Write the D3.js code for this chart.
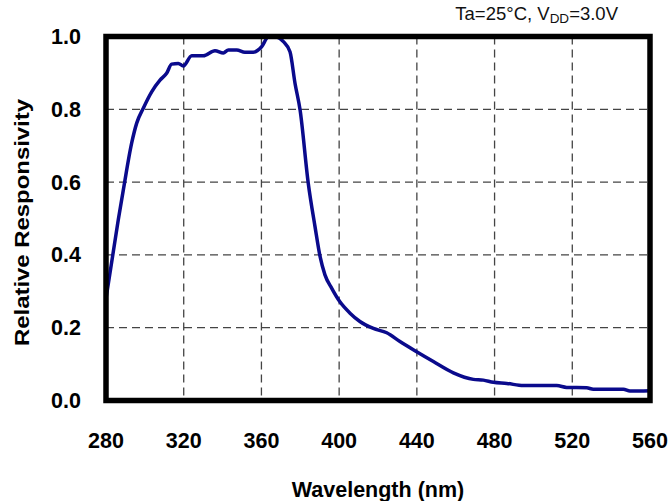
<!DOCTYPE html>
<html>
<head>
<meta charset="utf-8">
<script src="https://cdn.jsdelivr.net/npm/d3@7/dist/d3.min.js"></script>
<style>
  html, body { margin: 0; padding: 0; background: #fff; }
  svg { display: block; font-family: "Liberation Sans", Arial, sans-serif; }
</style>
</head>
<body>
<div id="viz"></div>
<script>
// wavelength (nm)
const wavelength = [280, 286.3, 288.9, 293.2, 295.8, 299.2, 303.5, 307.8, 311.2, 313.8,
  317.2, 319.8, 324.1, 330.1, 336.1, 340.4, 343, 347.3, 351.5, 355.8,
  360.1, 363.5, 367.8, 371.3, 374.7, 377.3, 379.9, 384.1, 387.6, 390.2,
  392.7, 396.2, 400.4, 405.6, 410.7, 417.6, 424.5, 431.3, 439.9, 448.5,
  458.8, 469.1, 474.2, 479.4, 486.3, 494.8, 512, 517.1, 527.4, 530.8,
  546.3, 549.7, 560];
// relative responsivity
const responsivity = [0.28, 0.496, 0.578, 0.707, 0.762, 0.803, 0.848, 0.880, 0.899, 0.924,
  0.926, 0.919, 0.947, 0.947, 0.961, 0.955, 0.963, 0.963, 0.957, 0.957,
  0.972, 0.998, 0.998, 0.986, 0.958, 0.871, 0.798, 0.597, 0.477, 0.395,
  0.345, 0.308, 0.271, 0.240, 0.217, 0.198, 0.186, 0.162, 0.134, 0.107,
  0.076, 0.058, 0.056, 0.050, 0.047, 0.041, 0.041, 0.036, 0.035, 0.031,
  0.031, 0.026, 0.027];
const xTicks = [280, 320, 360, 400, 440, 480, 520, 560];
const yTicks = [0.0, 0.2, 0.4, 0.6, 0.8, 1.0];

(function () {
  const W = 671, H = 501;
  const left = 106, right = 650, top = 36.5, bottom = 400.5;

  const svg = d3.select("#viz").append("svg")
    .attr("width", W).attr("height", H);

  const x = d3.scaleLinear().domain([280, 560]).range([left, right]);
  const y = d3.scaleLinear().domain([0, 1]).range([bottom, top]);

  // grid lines
  const grid = svg.append("g")
    .attr("stroke", "#444")
    .attr("stroke-width", 1.3)
    .attr("stroke-dasharray", "8 5");
  grid.selectAll("line.v")
    .data(xTicks.slice(1, -1))
    .enter().append("line")
      .attr("x1", d => x(d)).attr("x2", d => x(d))
      .attr("y1", top).attr("y2", bottom);
  grid.selectAll("line.h")
    .data(yTicks.slice(1, -1))
    .enter().append("line")
      .attr("x1", left).attr("x2", right)
      .attr("y1", d => y(d)).attr("y2", d => y(d));

  // curve
  const rows = wavelength.map((w, i) => ({ w: w, r: responsivity[i] }));
  svg.append("path")
    .datum(rows)
    .attr("fill", "none")
    .attr("stroke", "#0a0a8c")
    .attr("stroke-width", 3.5)
    .attr("stroke-linejoin", "round")
    .attr("d", d3.line()
      .x(d => x(d.w))
      .y(d => y(d.r))
      .curve(d3.curveMonotoneX));

  // frame
  svg.append("rect")
    .attr("x", left).attr("y", top)
    .attr("width", right - left).attr("height", bottom - top)
    .attr("fill", "none")
    .attr("stroke", "#000")
    .attr("stroke-width", 5.5);

  // tick labels
  svg.append("g").selectAll("text")
    .data(xTicks)
    .enter().append("text")
      .attr("x", d => x(d))
      .attr("y", 448)
      .attr("text-anchor", "middle")
      .attr("font-size", 21.5)
      .attr("font-weight", "bold")
      .text(d => d);
  svg.append("g").selectAll("text")
    .data(yTicks)
    .enter().append("text")
      .attr("x", 81)
      .attr("y", d => y(d) + 7.5)
      .attr("text-anchor", "end")
      .attr("font-size", 21.5)
      .attr("font-weight", "bold")
      .text(d => d.toFixed(1));

  // axis titles
  svg.append("text")
    .attr("x", (left + right) / 2)
    .attr("y", 497)
    .attr("text-anchor", "middle")
    .attr("font-size", 21.5)
    .attr("font-weight", "bold")
    .text("Wavelength (nm)");
  svg.append("text")
    .attr("transform", `translate(29,${(98 + 347) / 2}) rotate(-90)`)
    .attr("text-anchor", "middle")
    .attr("font-size", 21)
    .attr("font-weight", "bold")
    .attr("textLength", 247)
    .attr("lengthAdjust", "spacingAndGlyphs")
    .text("Relative Responsivity");

  // condition note
  const note = svg.append("text")
    .attr("x", 618)
    .attr("y", 20)
    .attr("text-anchor", "end")
    .attr("font-size", 18.5)
    .attr("fill", "#111");
  note.append("tspan").text("Ta=25°C, V");
  note.append("tspan").attr("font-size", 13.5).attr("dy", 3).text("DD");
  note.append("tspan").attr("dy", -3).text("=3.0V");
})();
</script>
</body>
</html>
